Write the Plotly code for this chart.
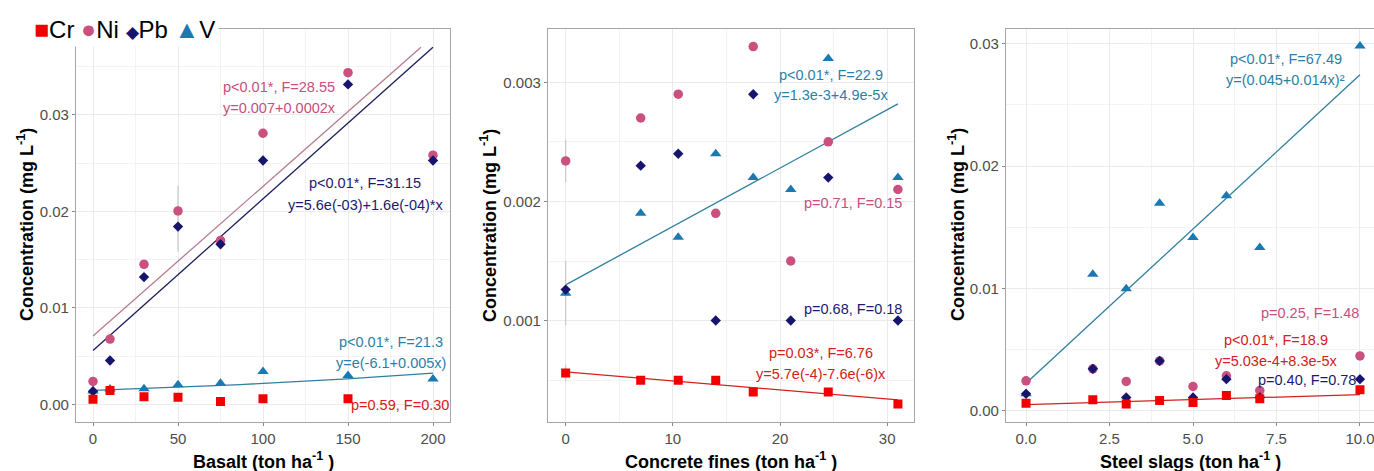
import numpy as np
import plotly.graph_objects as go

FONT = "Liberation Sans, Arial, sans-serif"
RED = "#f20000"
PINK = "#c9507f"
NAVY = "#15156e"
BLUE = "#1b79b1"
LINE_PINK = "#b87a90"
LINE_NAVY = "#1c1c5e"
LINE_TEAL = "#2f7f9f"
LINE_RED = "#d42020"
GRID = "#ebebeb"
BORDER = "#a6a6a6"
ERR = "#c8c8c8"

# ---------------- Basalt ----------------
basalt_x = [0, 10, 30, 50, 75, 100, 150, 200]
basalt_cr_x = [0, 10, 30, 50, 75, 100, 150]
basalt_cr = [0.00055, 0.00145, 0.0008, 0.00076, 0.00031, 0.00059, 0.00059]
basalt_ni = [0.00239, 0.00678, 0.01452, 0.02005, 0.0170, 0.0281, 0.03437, 0.02583]
basalt_ni_err_up = [0, 0, 0, 0.0026, 0, 0, 0, 0]
basalt_ni_err_dn = [0, 0, 0, 0.0042, 0, 0, 0, 0]
basalt_pb = [0.00138, 0.00456, 0.0132, 0.01843, 0.0166, 0.02528, 0.03316, 0.02528]
basalt_v = [0.0014, 0.0016, 0.00163, 0.00204, 0.00221, 0.00342, 0.0030, 0.00263]

# ---------------- Concrete fines ----------------
concrete_x = [0, 7, 10.5, 14, 17.5, 21, 24.5, 31]
concrete_cr_x = [0, 7, 10.5, 14, 17.5, 24.5, 31]
concrete_cr = [0.00056, 0.0005, 0.0005, 0.0005, 0.0004, 0.0004, 0.0003]
concrete_cr_err = [0.00007, 0, 0, 0, 0, 0, 0]
concrete_ni = [0.00234, 0.0027, 0.0029, 0.0019, 0.0033, 0.0015, 0.0025, 0.0021]
concrete_ni_err = [0.00018, 0, 0, 0, 0, 0, 0, 0]
concrete_pb = [0.00126, 0.0023, 0.0024, 0.001, 0.0029, 0.001, 0.0022, 0.001]
concrete_v = [0.00123, 0.0019, 0.0017, 0.0024, 0.0022, 0.0021, 0.0032, 0.0022]
concrete_v_err = [0.00027, 0, 0, 0, 0, 0, 0, 0]

# ---------------- Steel slags ----------------
steel_x = [0, 2, 3, 4, 5, 6, 7, 10]
steel_cr = [0.00063, 0.0009, 0.00057, 0.00084, 0.00068, 0.00125, 0.00098, 0.00172]
steel_ni = [0.00245, 0.00343, 0.0024, 0.00408, 0.00199, 0.00286, 0.00166, 0.00449]
steel_pb = [0.00139, 0.00343, 0.00109, 0.00408, 0.00109, 0.00259, 0.00109, 0.00259]
steel_v = [0.00139, 0.01117, 0.00997, 0.01697, 0.01416, 0.01757, 0.01334, 0.02982]

# fitted trend-line coefficients (intercept, slope)
basalt_ni_fit = (0.0071, 0.000155)
basalt_pb_fit = (0.0056, 0.000157)
basalt_v_fit = (-6.53, 0.004)          # exponential: exp(a + b x)
basalt_fit_cap = 0.037                 # smooths stop at this concentration
concrete_v_fit = (1.3e-3, 4.9e-5)
concrete_cr_fit = (5.7e-4, -7.6e-6)
steel_v_fit = (0.00226, 0.00252)
steel_cr_fit = (5.03e-4, 8.3e-5)

fig = go.Figure()

MS = {"Cr": 9, "Ni": 9.5, "Pb": 8, "V": 10}
SYM = {"Cr": "square", "Ni": "circle", "Pb": "diamond", "V": "triangle-up"}
COL = {"Cr": RED, "Ni": PINK, "Pb": NAVY, "V": BLUE}


def add_line(x, y, color, xa, ya):
    fig.add_trace(go.Scatter(x=x, y=y, mode="lines", line=dict(color=color, width=1.3),
                             xaxis=xa, yaxis=ya, showlegend=False, hoverinfo="skip"))


def add_pts(name, x, y, xa, ya, err_up=None, err_dn=None):
    kw = {}
    if err_up is not None:
        kw["error_y"] = dict(type="data", array=err_up,
                             arrayminus=err_dn if err_dn is not None else err_up,
                             symmetric=False, color=ERR, thickness=1.2, width=0)
    fig.add_trace(go.Scatter(x=x, y=y, mode="markers", name=name,
                             marker=dict(symbol=SYM[name], size=MS[name], color=COL[name],
                                         line=dict(width=0)),
                             xaxis=xa, yaxis=ya, showlegend=False, **kw))


def linear_line(fit, x0, x1, cap=None):
    a, b = fit
    if cap is not None and b > 0:
        x1 = min(x1, (cap - a) / b)
    xs = np.linspace(x0, x1, 50)
    return xs, a + b * xs


# Basalt panel
xs, ys = linear_line(basalt_ni_fit, 0, max(basalt_x), basalt_fit_cap)
add_line(xs, ys, LINE_PINK, "x", "y")
xs, ys = linear_line(basalt_pb_fit, 0, max(basalt_x), basalt_fit_cap)
add_line(xs, ys, LINE_NAVY, "x", "y")
xs = np.linspace(0, max(basalt_x), 100)
add_line(xs, np.exp(basalt_v_fit[0] + basalt_v_fit[1] * xs), LINE_TEAL, "x", "y")
add_pts("Ni", basalt_x, basalt_ni, "x", "y", basalt_ni_err_up, basalt_ni_err_dn)
add_pts("V", basalt_x, basalt_v, "x", "y")
add_pts("Pb", basalt_x, basalt_pb, "x", "y")
add_pts("Cr", basalt_cr_x, basalt_cr, "x", "y")

# Concrete panel
xs, ys = linear_line(concrete_v_fit, 0, max(concrete_x))
add_line(xs, ys, LINE_TEAL, "x2", "y2")
xs, ys = linear_line(concrete_cr_fit, 0, max(concrete_x))
add_line(xs, ys, LINE_RED, "x2", "y2")
add_pts("Ni", concrete_x, concrete_ni, "x2", "y2", concrete_ni_err)
add_pts("V", concrete_x, concrete_v, "x2", "y2", concrete_v_err)
add_pts("Pb", concrete_x, concrete_pb, "x2", "y2")
add_pts("Cr", concrete_cr_x, concrete_cr, "x2", "y2", concrete_cr_err)

# Steel slag panel
xs, ys = linear_line(steel_v_fit, 0, max(steel_x))
add_line(xs, ys, LINE_TEAL, "x3", "y3")
xs, ys = linear_line(steel_cr_fit, 0, max(steel_x))
add_line(xs, ys, LINE_RED, "x3", "y3")
add_pts("Ni", steel_x, steel_ni, "x3", "y3")
add_pts("V", steel_x, steel_v, "x3", "y3")
add_pts("Pb", steel_x, steel_pb, "x3", "y3")
add_pts("Cr", steel_x, steel_cr, "x3", "y3")

W, H = 1374, 471
Y_DOM = [1 - 421.5 / H, 1 - 29 / H]
TICKFONT = dict(family=FONT, size=15, color="#4d4d4d")


def axis_common(rng, dtick, minor, fmt, anchor, mirror=True):
    return dict(range=rng, dtick=dtick, tick0=0, tickformat=fmt,
                showgrid=True, gridcolor=GRID, gridwidth=1,
                minor=dict(dtick=minor, tick0=0, showgrid=True, gridcolor="#f3f3f3", gridwidth=1),
                showline=True, linecolor=BORDER, linewidth=1.2, mirror=mirror,
                ticks="outside", ticklen=3, tickcolor="#888888", tickwidth=1,
                tickfont=TICKFONT, zeroline=False, anchor=anchor,
                ticklabeloverflow="allow")


def xaxis(dom, rng, dtick, minor, fmt, anchor):
    d = axis_common(rng, dtick, minor, fmt, anchor)
    d["domain"] = dom
    return d


def yaxis(rng, dtick, minor, fmt, anchor, mirror=True):
    d = axis_common(rng, dtick, minor, fmt, anchor, mirror)
    d["domain"] = Y_DOM
    return d


fig.update_layout(
    width=W, height=H, margin=dict(l=0, r=0, t=0, b=0),
    paper_bgcolor="white", plot_bgcolor="white", showlegend=False,
    font=dict(family=FONT),
    xaxis=xaxis([76 / W, 450 / W], [-10, 210], 50, 25, "d", "y"),
    yaxis=yaxis([-0.00176, 0.0389], 0.01, 0.005, ".2f", "x"),
    xaxis2=xaxis([548 / W, 914 / W], [-1.65, 32.5], 10, 5, "d", "y2"),
    yaxis2=yaxis([0.000153, 0.003447], 0.001, 0.0005, ".3f", "x2"),
    xaxis3=xaxis([1006 / W, 1.0], [-0.6, 10.42], 2.5, 1.25, ".1f", "y3"),
    yaxis3=yaxis([-0.00087, 0.0312], 0.01, 0.005, ".2f", "x3", mirror=False),
)

ann = []


def txt(x, y, s, color, xr, yr, size=14.5):
    ann.append(dict(x=x, y=y, xref=xr, yref=yr, text=s, showarrow=False,
                    font=dict(family=FONT, size=size, color=color),
                    xanchor="center", yanchor="middle"))


T_PINK = "#c4507e"
T_NAVY = "#1a1a6e"
T_TEAL = "#2a80a8"
T_RED = "#d42020"

# Basalt statistics
txt(109.7, 0.03291, "p<0.01*, F=28.55", T_PINK, "x", "y")
txt(109.7, 0.03067, "y=0.007+0.0002x", T_PINK, "x", "y")
txt(160, 0.02296, "p<0.01*, F=31.15", T_NAVY, "x", "y")
txt(160, 0.02072, "y=5.6e(-03)+1.6e(-04)*x", T_NAVY, "x", "y")
txt(175, 0.00646, "p<0.01*, F=21.3", T_TEAL, "x", "y")
txt(175, 0.00428, "y=e(-6.1+0.005x)", T_TEAL, "x", "y")
txt(180.5, -0.0001, "p=0.59, F=0.30", T_RED, "x", "y")

# Concrete fines statistics
txt(24.78, 0.003061, "p<0.01*, F=22.9", T_TEAL, "x2", "y2")
txt(24.78, 0.002893, "y=1.3e-3+4.9e-5x", T_TEAL, "x2", "y2")
txt(26.77, 0.00199, "p=0.71, F=0.15", T_PINK, "x2", "y2")
txt(26.77, 0.001096, "p=0.68, F=0.18", T_NAVY, "x2", "y2")
txt(23.85, 0.000727, "p=0.03*, F=6.76", T_RED, "x2", "y2")
txt(23.85, 0.000553, "y=5.7e(-4)-7.6e(-6)x", T_RED, "x2", "y2")

# Steel slag statistics
txt(7.77, 0.02876, "p<0.01*, F=67.49", T_TEAL, "x3", "y3")
txt(7.77, 0.02704, "y=(0.045+0.014x)²", T_TEAL, "x3", "y3")
txt(8.49, 0.00798, "p=0.25, F=1.48", T_PINK, "x3", "y3")
txt(7.49, 0.0058, "p<0.01*, F=18.9", T_RED, "x3", "y3")
txt(7.49, 0.00408, "y=5.03e-4+8.3e-5x", T_RED, "x3", "y3")
txt(8.40, 0.00253, "p=0.40, F=0.78", T_NAVY, "x3", "y3")

# axis titles
x_titles = ["Basalt (ton ha<sup>-1</sup> )", "Concrete fines (ton ha<sup>-1</sup> )",
            "Steel slags (ton ha<sup>-1</sup> )"]
x_centers = [263, 731, 1190]
for t, cx in zip(x_titles, x_centers):
    ann.append(dict(x=cx / W, y=1 - 460 / H, xref="paper", yref="paper", text="<b>" + t + "</b>",
                    showarrow=False, font=dict(family=FONT, size=18, color="black"),
                    xanchor="center", yanchor="middle"))
y_title = "<b>Concentration (mg L<sup>-1</sup>)</b>"
for cx in [25, 488, 956]:
    ann.append(dict(x=cx / W, y=1 - 225 / H, xref="paper", yref="paper", text=y_title,
                    showarrow=False, textangle=-90, font=dict(family=FONT, size=18, color="black"),
                    xanchor="center", yanchor="middle"))

# legend strip
legend_items = [("■", RED, "Cr", 25), ("●", PINK, "Ni", 25), ("◆", NAVY, "Pb", 17),
                ("▲", BLUE, "V", 25)]
legend_text = " ".join(
    f"<span style='color:{c};font-size:{fs}px'>{g}</span>{lab}" for g, c, lab, fs in legend_items)
ann.append(dict(x=30 / W, y=1 - 29 / H, xref="paper", yref="paper", text=legend_text,
                showarrow=False, font=dict(family=FONT, size=24, color="black"),
                xanchor="left", yanchor="middle", bgcolor="white", borderpad=3))

fig.update_layout(annotations=ann)
fig.write_html("out.html")
